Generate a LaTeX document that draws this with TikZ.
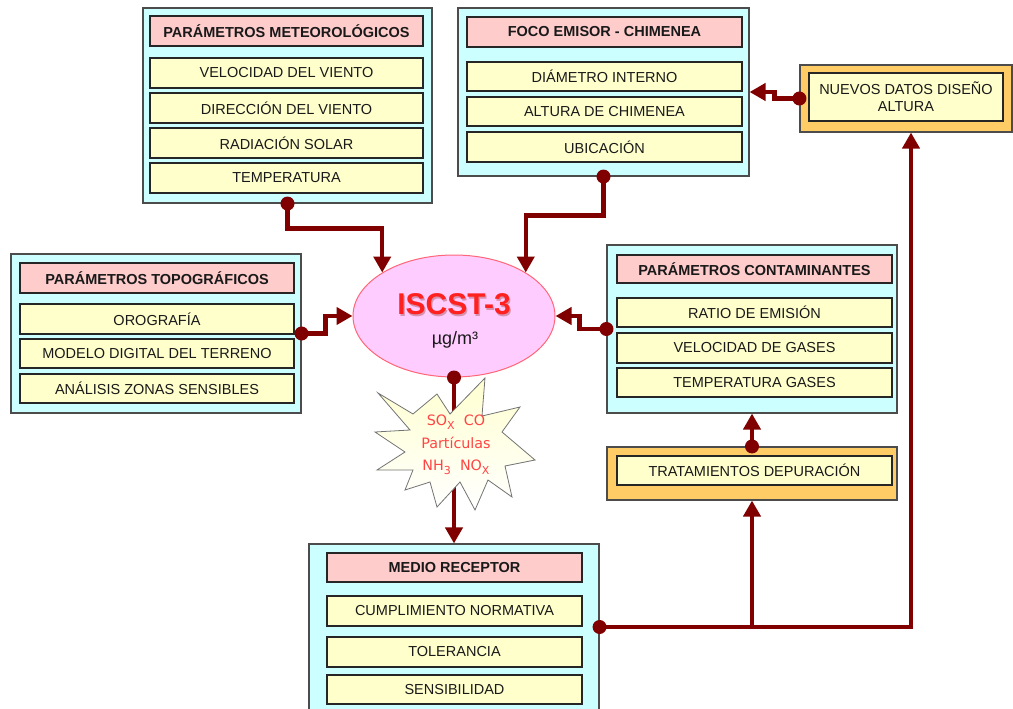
\documentclass[tikz,border=0pt]{standalone}
\usepackage{fontspec}
\setmainfont{Liberation Sans}
\newfontfamily\djv{DejaVu Sans}
\usetikzlibrary{arrows.meta,calc,shapes.geometric}
\definecolor{cyanbg}{HTML}{CCFFFF}
\definecolor{pinkhd}{HTML}{FFCCCC}
\definecolor{yellowrow}{HTML}{FFFFCC}
\definecolor{orangebg}{HTML}{FFCC66}
\definecolor{conncol}{HTML}{800000}
\definecolor{ellfill}{HTML}{FFCCFF}
\definecolor{ellborder}{HTML}{FF6677}
\definecolor{txtred}{HTML}{FF2020}
\definecolor{starred}{HTML}{FF4444}
\definecolor{staryel}{HTML}{FFFFD0}
\newcommand{\subx}[1]{\raisebox{-4pt}{\fontsize{11}{11}\selectfont #1}}
\tikzset{
  outerbox/.style={draw=black!70, fill=cyanbg, line width=1.1pt, inner sep=0pt},
  orangebox/.style={draw=black!70, fill=orangebg, line width=1.1pt, inner sep=0pt},
  header/.style={draw=black!85, fill=pinkhd, line width=1.2pt, inner sep=0pt, minimum height=30pt,
     font=\fontsize{14.5}{16}\selectfont\bfseries, text=black!90},
  row/.style={draw=black!85, fill=yellowrow, line width=1.2pt, inner sep=0pt, minimum height=30pt,
     font=\fontsize{14.5}{16}\selectfont, text=black!90},
  conn/.style={draw=conncol, line width=4.5pt, -{Triangle[width=17pt,length=16pt]}},
  plainconn/.style={draw=conncol, line width=4.5pt},
  dotc/.style={fill=conncol},
}
\begin{document}
\begin{tikzpicture}[x={(1pt,0pt)}, y={(0pt,-1pt)}]
\useasboundingbox (0,0) rectangle (1013,709);
\clip (0,0) rectangle (1013,709);

% ---- Parametros meteorologicos
\node[outerbox, minimum width=289pt, minimum height=195pt] (met) at (287.5,105.5) {};
\node[header, minimum width=273pt] (meth) at (286.5,31) {PARÁMETROS METEOROLÓGICOS};
\node[row, minimum width=273pt] (met1) at (286.5,73) {VELOCIDAD DEL VIENTO};
\node[row, minimum width=273pt] (met2) at (286.5,108) {DIRECCIÓN DEL VIENTO};
\node[row, minimum width=273pt] (met3) at (286.5,143) {RADIACIÓN SOLAR};
\node[row, minimum width=273pt] (met4) at (286.5,178) {TEMPERATURA};

% ---- Foco emisor
\node[outerbox, minimum width=291pt, minimum height=168pt] (foco) at (603.5,92) {};
\node[header, minimum width=275pt] (focoh) at (604.5,32) {FOCO EMISOR - CHIMENEA};
\node[row, minimum width=275pt, minimum height=29pt] (foco1) at (604.5,76.5) {DIÁMETRO INTERNO};
\node[row, minimum width=275pt, minimum height=29pt] (foco2) at (604.5,111.5) {ALTURA DE CHIMENEA};
\node[row, minimum width=275pt] (foco3) at (604.5,147) {UBICACIÓN};

% ---- Nuevos datos
\node[orangebox, minimum width=212pt, minimum height=67pt] (nue) at (906,98.5) {};
\node[row, minimum width=194pt, minimum height=48pt, align=center,
      font=\fontsize{14.5}{17}\selectfont] (nuei) at (906,97) {NUEVOS DATOS DISEÑO\\ALTURA};

% ---- Topograficos
\node[outerbox, minimum width=290pt, minimum height=159pt] (topo) at (156,333.5) {};
\node[header, minimum width=274pt] (topoh) at (157,278) {PARÁMETROS TOPOGRÁFICOS};
\node[row, minimum width=274pt] (topo1) at (157,319) {OROGRAFÍA};
\node[row, minimum width=274pt, minimum height=29pt] (topo2) at (157,353.5) {MODELO DIGITAL DEL TERRENO};
\node[row, minimum width=274pt, minimum height=29pt] (topo3) at (157,388.5) {ANÁLISIS ZONAS SENSIBLES};

% ---- Contaminantes
\node[outerbox, minimum width=290pt, minimum height=168pt] (cont) at (752,329) {};
\node[header, minimum width=275pt, minimum height=28pt] (conth) at (754.5,269) {PARÁMETROS CONTAMINANTES};
\node[row, minimum width=275pt, minimum height=29pt] (cont1) at (754.5,312.5) {RATIO DE EMISIÓN};
\node[row, minimum width=275pt] (cont2) at (754.5,348) {VELOCIDAD DE GASES};
\node[row, minimum width=275pt, minimum height=29pt] (cont3) at (754.5,382.5) {TEMPERATURA GASES};

% ---- Tratamientos
\node[orangebox, minimum width=290pt, minimum height=53pt] (trat) at (752,473.5) {};
\node[row, minimum width=275pt, minimum height=29pt] (trati) at (754.5,470.5) {TRATAMIENTOS DEPURACIÓN};

% ---- Medio receptor
\node[outerbox, minimum width=290pt, minimum height=176pt] (med) at (454,632) {};
\node[header, minimum width=255pt, minimum height=29pt] (medh) at (454.5,567.5) {MEDIO RECEPTOR};
\node[row, minimum width=255pt] (med1) at (454.5,611) {CUMPLIMIENTO NORMATIVA};
\node[row, minimum width=255pt] (med2) at (454.5,652) {TOLERANCIA};
\node[row, minimum width=255pt, minimum height=29pt] (med3) at (454.5,689.5) {SENSIBILIDAD};

% ---- Ellipse ISCST-3
\node[ellipse, draw=ellborder, fill=ellfill, line width=1pt, minimum width=202pt, minimum height=122pt, inner sep=0pt] (ell) at (454,316) {};
\node[text=conncol!70, opacity=0.45, font=\fontsize{30}{31}\selectfont\bfseries] at (455.3,305.7) {ISCST-3};
\node[text=txtred, font=\fontsize{30}{31}\selectfont\bfseries] (elltitle) at (454,304.5) {ISCST-3};
\node[text=black!90, font=\fontsize{18}{20}\selectfont] (ellunit) at (455,340) {µg/m³};

% ---- connectors into ellipse
\draw[conn] (met.south) -- ++(0,25) -| (ell.north west);
\draw[conn] (foco.south) -- ++(0,39) -| (ell.north east);
\draw[conn] (topo.east) -- ++(24,0) |- (ell.west);
\draw[conn] (cont.west) -- ++(-27,0) |- (ell.east);
\draw[conn] (nue.west) -- ++(-25,0) |- (foco.east);
\draw[conn] (trat.north) -- (cont.south);

% ---- receptor feedback
\coordinate (m1) at ([yshift=5pt]med.east);
\coordinate (m2) at ([xshift=5pt]nue.south);
\draw[conn] (m1) -| (m2);
\draw[conn] (trat.south |- m1) -- (trat.south);

% ---- ellipse to star to receptor
\coordinate (stin) at (454,416);
\coordinate (stout) at (454,474);
\draw[plainconn] (ell.south) -- (stin);
\draw[conn] (stout) -- (med.north);

% ---- star
\shade[top color=staryel, bottom color=white, draw=black!55, line width=0.8pt]
  (378,393) -- (413,414) -- (437,394) -- (450,414) -- (485,378) -- (482,416) -- (520,407)
  -- (502,432) -- (535,460) -- (505,466) -- (512,497) -- (488,480) -- (475,510)
  -- (460,482) -- (437,507) -- (430,482) -- (405,490) -- (413,470) -- (377,470)
  -- (405,452) -- (375,432) -- (410,430) -- cycle;
\node[text=starred, align=center, font=\djv\fontsize{14.3}{22.5}\selectfont, inner sep=0pt] (star) at (456,445)
  {SO\subx{X}\ \ CO\\Partículas\\NH\subx{3}\ \ NO\subx{X}};

% ---- dots
\fill[dotc] (met.south) circle (7pt);
\fill[dotc] (foco.south) circle (7pt);
\fill[dotc] (topo.east) circle (7pt);
\fill[dotc] (cont.west) circle (7pt);
\fill[dotc] (nue.west) circle (7pt);
\fill[dotc] (trat.north) circle (7pt);
\fill[dotc] (m1) circle (7pt);
\fill[dotc] (ell.south) circle (7pt);
\end{tikzpicture}
\end{document}
